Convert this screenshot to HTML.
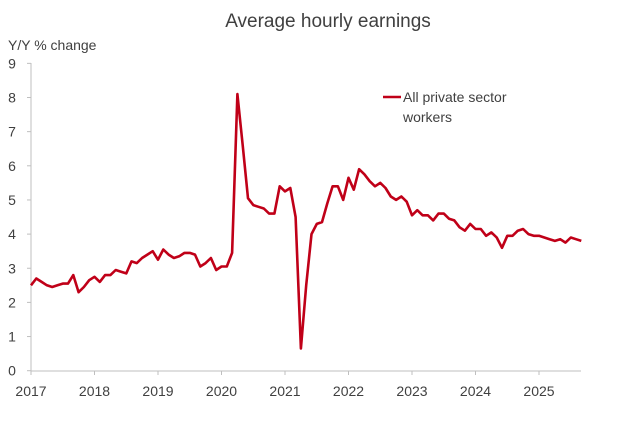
<!DOCTYPE html>
<html><head><meta charset="utf-8"><style>
body{margin:0;background:#fff;width:619px;height:426px;overflow:hidden}
svg text{font-family:"Liberation Sans",sans-serif;fill:#404040}
</style></head><body>
<svg id="s" width="619" height="426" xmlns="http://www.w3.org/2000/svg">
<text x="328" y="27" font-size="19" text-anchor="middle">Average hourly earnings</text>
<text x="8" y="50" font-size="14">Y/Y % change</text>
<g stroke="#bfbfbf" stroke-width="1">
<line x1="31" y1="63" x2="31" y2="371"/>
<line x1="31" y1="371" x2="581" y2="371"/>
</g>
<g id="ticks" stroke="#bfbfbf" stroke-width="1"></g>
<g id="lab" font-size="14"></g>
<polyline id="p" fill="none" stroke="#c00018" stroke-width="2.6" stroke-linejoin="round"/>
<line x1="383" y1="97" x2="401" y2="97" stroke="#c00018" stroke-width="2.6"/>
<text x="403" y="102" font-size="14">All private sector</text>
<text x="403" y="122" font-size="14">workers</text>
</svg>
<script>
var v=[2.5,2.7,2.6,2.5,2.45,2.5,2.55,2.55,2.8,2.3,2.45,2.65,
2.75,2.6,2.8,2.8,2.95,2.9,2.85,3.2,3.15,3.3,3.4,3.5,
3.25,3.55,3.4,3.3,3.35,3.45,3.45,3.4,3.05,3.15,3.3,2.95,
3.05,3.05,3.45,8.1,6.6,5.05,4.85,4.8,4.75,4.6,4.6,5.4,
5.25,5.35,4.5,0.65,2.5,4.0,4.3,4.35,4.9,5.4,5.4,5.0,
5.65,5.3,5.9,5.75,5.55,5.4,5.5,5.35,5.1,5.0,5.1,4.95,
4.55,4.7,4.55,4.55,4.4,4.6,4.6,4.45,4.4,4.2,4.1,4.3,
4.15,4.15,3.95,4.05,3.9,3.6,3.95,3.95,4.1,4.15,4.0,3.95,
3.95,3.9,3.85,3.8,3.85,3.75,3.9,3.85,3.8];
var X=function(m){return 31+m*63.5/12},Y=function(y){return 370.7-y*34.15};
document.getElementById('p').setAttribute('points',v.map(function(a,i){return X(i).toFixed(1)+','+Y(a).toFixed(1)}).join(' '));
var t='',l='';
for(var i=0;i<=9;i++){var y=Y(i);t+='<line x1="27" x2="31" y1="'+y+'" y2="'+y+'"/>';l+='<text x="12" y="'+(y+5)+'" text-anchor="middle">'+i+'</text>';}
for(var k=0;k<=8;k++){var x=X(k*12);t+='<line x1="'+x+'" x2="'+x+'" y1="371" y2="375"/>';l+='<text x="'+x+'" y="396" text-anchor="middle">'+(2017+k)+'</text>';}
document.getElementById('ticks').innerHTML=t;document.getElementById('lab').innerHTML=l;
</script>
</body></html>
